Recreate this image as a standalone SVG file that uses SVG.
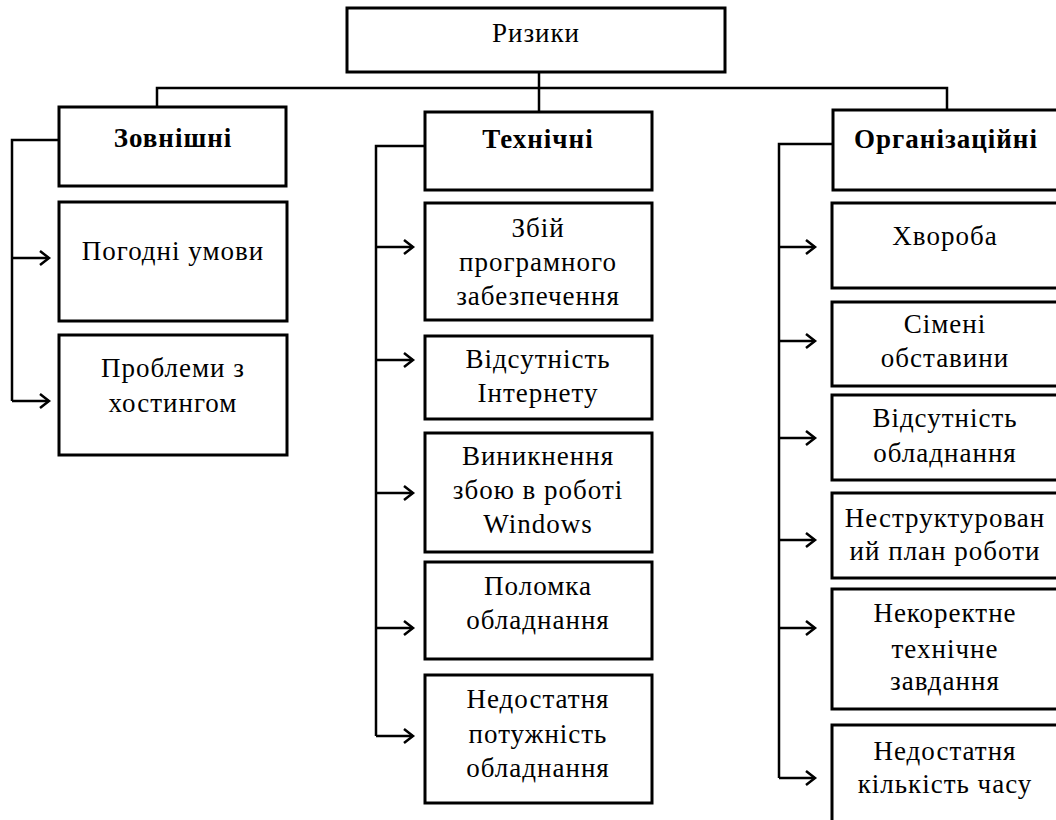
<svg xmlns="http://www.w3.org/2000/svg" width="1056" height="820" viewBox="0 0 1056 820">
  <defs>
    <style>
      .box { fill: #fff; stroke: #000; stroke-width: 3; }
      .t { font-family: "Liberation Serif", "Times New Roman", serif; font-size: 27px; letter-spacing: 1px; fill: #000; text-anchor: middle; }
      .h { font-weight: bold; }
      .ln { fill: none; stroke: #000; stroke-width: 2.5; }
    </style>
    <marker id="arr" markerUnits="userSpaceOnUse" markerWidth="14" markerHeight="18" refX="11" refY="8" orient="auto">
      <path d="M2,1 L11,8 L2,15" fill="none" stroke="#000" stroke-width="2.5"/>
    </marker>
  </defs>
  <rect width="1056" height="820" fill="#fff"/>

  <!-- connectors -->
  <g id="connectors" class="ln">
    <path d="M539,72 V112"/>
    <path d="M157,107 V88 H947 V110"/>
    <!-- external -->
    <path d="M59,140 H12 V401"/>
    <path d="M12,258 H49" marker-end="url(#arr)"/>
    <path d="M12,401 H49" marker-end="url(#arr)"/>
    <!-- technical -->
    <path d="M425,146 H376 V736"/>
    <path d="M376,247 H413" marker-end="url(#arr)"/>
    <path d="M376,360 H413" marker-end="url(#arr)"/>
    <path d="M376,493 H413" marker-end="url(#arr)"/>
    <path d="M376,628 H413" marker-end="url(#arr)"/>
    <path d="M376,736 H413" marker-end="url(#arr)"/>
    <!-- organisational -->
    <path d="M833,144 H779 V778"/>
    <path d="M779,247 H815" marker-end="url(#arr)"/>
    <path d="M779,341 H815" marker-end="url(#arr)"/>
    <path d="M779,438 H815" marker-end="url(#arr)"/>
    <path d="M779,540 H815" marker-end="url(#arr)"/>
    <path d="M779,628 H815" marker-end="url(#arr)"/>
    <path d="M779,778 H815" marker-end="url(#arr)"/>
  </g>

  <g id="root">
    <rect class="box" x="347" y="8" width="378" height="64"/>
    <text class="t" x="536" y="42">Ризики</text>
  </g>

  <!-- external risks -->
  <g id="external">
    <rect class="box" x="59" y="107" width="227" height="79"/>
    <text class="t h" x="173" y="147">Зовнішні</text>
  </g>
  <g id="weather">
    <rect class="box" x="59" y="202" width="228" height="119"/>
    <text class="t" x="173" y="260">Погодні умови</text>
  </g>
  <g id="hosting">
    <rect class="box" x="59" y="335" width="228" height="120"/>
    <text class="t" x="173" y="377">Проблеми з</text>
    <text class="t" x="173" y="412">хостингом</text>
  </g>

  <!-- technical risks -->
  <g id="technical">
    <rect class="box" x="425" y="112" width="227" height="78"/>
    <text class="t h" x="538" y="148">Технічні</text>
  </g>
  <g id="software">
    <rect class="box" x="425" y="203" width="227" height="117"/>
    <text class="t" x="538" y="237">Збій</text>
    <text class="t" x="538" y="271">програмного</text>
    <text class="t" x="538" y="305">забезпечення</text>
  </g>
  <g id="internet">
    <rect class="box" x="425" y="336" width="227" height="83"/>
    <text class="t" x="538" y="368">Відсутність</text>
    <text class="t" x="538" y="402">Інтернету</text>
  </g>
  <g id="windows">
    <rect class="box" x="425" y="433" width="227" height="119"/>
    <text class="t" x="538" y="465">Виникнення</text>
    <text class="t" x="538" y="499">збою в роботі</text>
    <text class="t" x="538" y="533">Windows</text>
  </g>
  <g id="breakdown">
    <rect class="box" x="425" y="562" width="227" height="97"/>
    <text class="t" x="538" y="595">Поломка</text>
    <text class="t" x="538" y="629">обладнання</text>
  </g>
  <g id="power">
    <rect class="box" x="425" y="675" width="227" height="128"/>
    <text class="t" x="538" y="708">Недостатня</text>
    <text class="t" x="538" y="743">потужність</text>
    <text class="t" x="538" y="777">обладнання</text>
  </g>

  <!-- organisational risks -->
  <g id="organisational">
    <rect class="box" x="833" y="110" width="228" height="80"/>
    <text class="t h" x="946" y="148">Організаційні</text>
  </g>
  <g id="illness">
    <rect class="box" x="832" y="203" width="229" height="85"/>
    <text class="t" x="945" y="245">Хвороба</text>
  </g>
  <g id="family">
    <rect class="box" x="832" y="302" width="229" height="84"/>
    <text class="t" x="945" y="333">Сімені</text>
    <text class="t" x="945" y="367">обставини</text>
  </g>
  <g id="equipment">
    <rect class="box" x="832" y="395" width="229" height="85"/>
    <text class="t" x="945" y="427">Відсутність</text>
    <text class="t" x="945" y="462">обладнання</text>
  </g>
  <g id="plan">
    <rect class="box" x="832" y="493" width="229" height="85"/>
    <text class="t" x="945" y="527">Неструктурован</text>
    <text class="t" x="945" y="560">ий план роботи</text>
  </g>
  <g id="spec">
    <rect class="box" x="832" y="589" width="229" height="120"/>
    <text class="t" x="945" y="622">Некоректне</text>
    <text class="t" x="945" y="658">технічне</text>
    <text class="t" x="945" y="690">завдання</text>
  </g>
  <g id="time">
    <rect class="box" x="832" y="725" width="229" height="110"/>
    <text class="t" x="945" y="760">Недостатня</text>
    <text class="t" x="945" y="793">кількість часу</text>
  </g>
</svg>
